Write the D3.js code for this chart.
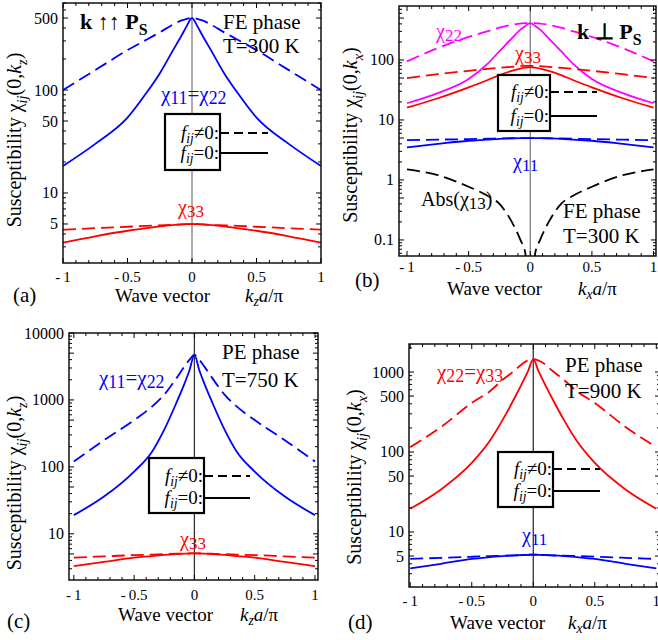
<!DOCTYPE html>
<html>
<head>
<meta charset="utf-8">
<script src="https://cdn.jsdelivr.net/npm/d3@7"></script>
<style>
  body { margin: 0; background: #fff; }
  text { font-family: "Liberation Serif", "Times New Roman", serif; }
</style>
</head>
<body>
<div id="fig"></div>
<script>
// wave vector grid (k a / pi) shared by every curve
var K = [-1, -0.75, -0.5, -0.35, -0.25, -0.15, -0.08, -0.04, 0, 0.04, 0.08, 0.15, 0.25, 0.35, 0.5, 0.75, 1];

// (a) FE phase, k || Ps
var aChi11Dash  = [100, 156, 244, 310, 363, 430, 475, 492, 500, 492, 475, 430, 363, 310, 244, 156, 100];
var aChi11Solid = [18.3, 30, 54, 95, 145, 240, 340, 420, 500, 420, 340, 240, 145, 95, 54, 30, 18.3];
var aChi33Dash  = [4.4, 4.55, 4.7, 4.8, 4.85, 4.9, 4.95, 4.98, 5.0, 4.98, 4.95, 4.9, 4.85, 4.8, 4.7, 4.55, 4.4];
var aChi33Solid = [3.3, 3.8, 4.3, 4.55, 4.75, 4.88, 4.95, 4.98, 5.0, 4.98, 4.95, 4.88, 4.75, 4.55, 4.3, 3.8, 3.3];

// (b) FE phase, k _|_ Ps
var bChi22Dash  = [95, 158, 242, 300, 345, 385, 405, 411, 413, 411, 405, 385, 345, 300, 242, 158, 95];
var bChi22Solid = [19, 28, 48, 85, 140, 230, 320, 370, 413, 370, 320, 230, 140, 85, 48, 28, 19];
var bChi33Dash  = [50, 58, 66, 71, 74, 77, 79, 79.7, 80, 79.7, 79, 77, 74, 71, 66, 58, 50];
var bChi33Solid = [16, 23, 35, 46, 56, 66, 72, 74.5, 76, 74.5, 72, 66, 56, 46, 35, 23, 16];
var bChi11Dash  = [4.6, 4.7, 4.8, 4.87, 4.92, 4.96, 4.98, 4.99, 5.0, 4.99, 4.98, 4.96, 4.92, 4.87, 4.8, 4.7, 4.6];
var bChi11Solid = [3.5, 4.0, 4.5, 4.7, 4.85, 4.93, 4.97, 4.99, 5.0, 4.99, 4.97, 4.93, 4.85, 4.7, 4.5, 4.0, 3.5];
var bChi13Dash  = [1.5, 1.2, 0.77, 0.55, 0.4, 0.2, 0.1, 0.06, 0.001, 0.06, 0.1, 0.2, 0.4, 0.55, 0.77, 1.2, 1.5];

// (c) PE phase 750 K, k || z
var cChi11Dash  = [120, 250, 500, 800, 1200, 2100, 3200, 4000, 4700, 4000, 3200, 2100, 1200, 800, 500, 250, 120];
var cChi11Solid = [19, 36, 85, 170, 360, 900, 1800, 2800, 4700, 2800, 1800, 900, 360, 170, 85, 36, 19];
var cChi33Dash  = [4.4, 4.6, 4.8, 4.9, 4.97, 5.03, 5.07, 5.09, 5.1, 5.09, 5.07, 5.03, 4.97, 4.9, 4.8, 4.6, 4.4];
var cChi33Solid = [3.3, 3.8, 4.4, 4.65, 4.85, 4.98, 5.05, 5.08, 5.1, 5.08, 5.05, 4.98, 4.85, 4.65, 4.4, 3.8, 3.3];

// (d) PE phase 900 K, k || x
var dChi22Dash  = [115, 205, 410, 580, 795, 1050, 1300, 1400, 1450, 1400, 1300, 1050, 795, 580, 410, 205, 115];
var dChi22Solid = [19.5, 34, 73, 140, 250, 480, 780, 1050, 1450, 1050, 780, 480, 250, 140, 73, 34, 19.5];
var dChi11Dash  = [4.6, 4.75, 4.9, 5.0, 5.05, 5.1, 5.15, 5.18, 5.2, 5.18, 5.15, 5.1, 5.05, 5.0, 4.9, 4.75, 4.6];
var dChi11Solid = [3.5, 4.0, 4.6, 4.85, 5.0, 5.1, 5.15, 5.18, 5.2, 5.18, 5.15, 5.1, 5.0, 4.85, 4.6, 4.0, 3.5];

// tick labels
var xTickLabels = [-1, -0.5, 0, 0.5, 1];
var aYTicks = [5, 10, 50, 100, 500];
var bYTicks = [0.1, 1, 10, 100];
var cYTicks = [10, 100, 1000, 10000];
var dYTicks = [5, 10, 50, 100, 500, 1000];

var BLUE = "#0000ff", RED = "#ff0000", MAG = "#ff00ff";

var svg = d3.select("#fig").append("svg")
    .attr("width", 658)
    .attr("height", 640);

// rich text: parts = [{t, it, sub, b}]
function rich(g, x, y, parts, size, color, anchor) {
    var t = g.append("text")
        .attr("x", x).attr("y", y)
        .attr("font-size", size)
        .attr("fill", color || "#000")
        .attr("text-anchor", anchor || "start");
    var shift = 0;
    parts.forEach(function(p) {
        var target = p.sub ? size * (p.drop || 0.28) : 0;
        var s = t.append("tspan").text(p.t)
            .attr("dy", target - shift)
            .attr("font-size", p.sub ? size * (p.subScale || 0.72) : size);
        if (p.it) s.attr("font-style", "italic");
        if (p.b) s.attr("font-weight", "bold");
        shift = target;
    });
    return t;
}

var clipId = 0;
function panel(o) {
    var g = svg.append("g");
    var x = d3.scaleLinear().domain(o.xd).range([o.l, o.r]);
    var y = d3.scaleLog().domain(o.yd).range([o.b, o.t]);

    clipId++;
    g.append("clipPath").attr("id", "clip" + clipId)
        .append("rect")
        .attr("x", o.l).attr("y", o.t)
        .attr("width", o.r - o.l).attr("height", o.b - o.t);

    var plot = g.append("g").attr("clip-path", "url(#clip" + clipId + ")");

    // k = 0 line
    plot.append("line")
        .attr("x1", x(0)).attr("x2", x(0))
        .attr("y1", o.t).attr("y2", o.b)
        .attr("stroke", o.midColor).attr("stroke-width", 1.3);

    var line = d3.line()
        .x(function(d) { return x(d[0]); })
        .y(function(d) { return y(d[1]); })
        .curve(d3.curveMonotoneX);

    o.series.forEach(function(s) {
        plot.append("path")
            .datum(K.map(function(k, i) { return [k, s.v[i]]; }))
            .attr("d", line)
            .attr("fill", "none")
            .attr("stroke", s.c)
            .attr("stroke-width", 1.8)
            .attr("stroke-dasharray", s.dash ? "13,6" : null);
    });

    // legend
    var lg = o.legend;
    g.append("line").attr("x1", lg.r).attr("x2", lg.end)
        .attr("y1", lg.y1).attr("y2", lg.y1)
        .attr("stroke", "#000").attr("stroke-width", 2.2).attr("stroke-dasharray", "9,5");
    g.append("line").attr("x1", lg.r).attr("x2", lg.end)
        .attr("y1", lg.y2).attr("y2", lg.y2)
        .attr("stroke", "#000").attr("stroke-width", 2.2);
    g.append("rect")
        .attr("x", lg.l).attr("y", lg.t)
        .attr("width", lg.r - lg.l).attr("height", lg.b - lg.t)
        .attr("fill", "#fff").attr("stroke", "#000").attr("stroke-width", 2.2);
    rich(g, lg.r - 1, lg.y1 + 6, [{t: "f", it: true}, {t: "ij", it: true, sub: true, drop: 0.22}, {t: "\u22600:"}], 19, "#000", "end");
    rich(g, lg.r - 1, lg.y2 + 6, [{t: "f", it: true}, {t: "ij", it: true, sub: true, drop: 0.22}, {t: "=0:"}], 19, "#000", "end");

    // frame
    g.append("rect")
        .attr("x", o.l).attr("y", o.t)
        .attr("width", o.r - o.l).attr("height", o.b - o.t)
        .attr("fill", "none").attr("stroke", "#000").attr("stroke-width", 1.4);

    // x ticks every 0.1, inside the frame
    var ticks = g.append("g").attr("stroke", "#000").attr("stroke-width", 1);
    d3.range(-12, 13).map(function(i) { return i / 10; })
        .filter(function(k) { return k >= o.xd[0] && k <= o.xd[1]; })
        .forEach(function(k) {
            var len = Math.abs(k * 2 - Math.round(k * 2)) < 1e-6 ? 5 : 3;
            ticks.append("line").attr("x1", x(k)).attr("x2", x(k))
                .attr("y1", o.b).attr("y2", o.b - len);
            ticks.append("line").attr("x1", x(k)).attr("x2", x(k))
                .attr("y1", o.t).attr("y2", o.t + len);
        });
    // y log ticks
    var d0 = Math.floor(Math.log10(o.yd[0])), d1 = Math.ceil(Math.log10(o.yd[1]));
    for (var d = d0; d <= d1; d++) {
        for (var m = 1; m <= 9; m++) {
            var v = m * Math.pow(10, d);
            if (v < o.yd[0] || v > o.yd[1]) continue;
            var len = (m === 1 || m === 5) ? 5 : 3;
            ticks.append("line").attr("x1", o.l).attr("x2", o.l + len)
                .attr("y1", y(v)).attr("y2", y(v));
            ticks.append("line").attr("x1", o.r).attr("x2", o.r - len)
                .attr("y1", y(v)).attr("y2", y(v));
        }
    }

    // tick labels
    o.yTicks.forEach(function(v) {
        g.append("text").attr("x", o.l - 5).attr("y", y(v) + 5.5)
            .attr("text-anchor", "end").attr("font-size", 16).text(v);
    });
    xTickLabels.forEach(function(k) {
        if (x(k) > 662) return;
        g.append("text").attr("x", x(k)).attr("y", o.xLabY)
            .attr("text-anchor", "middle").attr("font-size", 15)
            .text(k < 0 ? "-\u2009" + Math.abs(k) : k);
    });

    // axis titles
    rich(g, o.title[0], o.title[1], [{t: "Wave vector"}], 19);
    rich(g, o.title[2], o.title[1], [{t: "k", it: true}, {t: o.kSub, it: true, sub: true, drop: 0.2}, {t: "a", it: true}, {t: "/\u03c0"}], 19);
    rich(g, 0, 0, [{t: "Susceptibility  \u03c7"}, {t: "ij", it: true, sub: true}, {t: "(0,"}, {t: "k", it: true}, {t: o.kSub, it: true, sub: true}, {t: ")"}], 20, "#000", "middle")
        .attr("transform", "translate(" + o.yLab[0] + "," + o.yLab[1] + ") rotate(-90)");
    g.append("text").attr("x", o.tag[0]).attr("y", o.tag[1]).attr("font-size", 21).text(o.tag[2]);

    o.texts.forEach(function(t) {
        rich(g, t.x, t.y, t.parts, t.size, t.c);
    });
}

function chi(sub) {
    return [{t: "\u03c7"}, {t: sub, sub: true, subScale: 0.85, drop: 0.15}];
}

panel({
    l: 63, r: 321, t: 3, b: 263, xd: [-1, 1], yd: [2.09, 700],
    midColor: "#808080", yTicks: aYTicks, kSub: "z", xLabY: 282,
    series: [
        {v: aChi11Dash, c: BLUE, dash: true}, {v: aChi11Solid, c: BLUE},
        {v: aChi33Dash, c: RED, dash: true}, {v: aChi33Solid, c: RED}
    ],
    legend: {l: 165, r: 220, t: 114, b: 170, y1: 133, y2: 153, end: 268},
    title: [115, 302, 245], yLab: [21, 140], tag: [13, 302, "(a)"],
    texts: [
        {x: 80, y: 29, size: 22, parts: [{t: "k \u2191\u2191 P", b: true}, {t: "S", b: true, sub: true}]},
        {x: 223, y: 29, size: 21, parts: [{t: "FE phase"}]},
        {x: 223, y: 53, size: 21, parts: [{t: "T=300 K"}]},
        {x: 161, y: 101, size: 21, c: BLUE, parts: chi("11").concat([{t: "="}]).concat(chi("22"))},
        {x: 178, y: 214, size: 20, c: RED, parts: chi("33")}
    ]
});

panel({
    l: 399, r: 656, t: 6, b: 256, xd: [-1.065, 1.02], yd: [0.054, 794],
    midColor: "#808080", yTicks: bYTicks, kSub: "x", xLabY: 272,
    series: [
        {v: bChi22Dash, c: MAG, dash: true}, {v: bChi22Solid, c: MAG},
        {v: bChi33Dash, c: RED, dash: true}, {v: bChi33Solid, c: RED},
        {v: bChi11Dash, c: BLUE, dash: true}, {v: bChi11Solid, c: BLUE},
        {v: bChi13Dash, c: "#000", dash: true}
    ],
    legend: {l: 498, r: 550, t: 75, b: 131, y1: 92, y2: 116, end: 597},
    title: [447, 295, 578], yLab: [357, 135], tag: [355, 287, "(b)"],
    texts: [
        {x: 436, y: 38, size: 20, c: MAG, parts: chi("22")},
        {x: 577, y: 39, size: 22, parts: [{t: "k \u22a5 P", b: true}, {t: "S", b: true, sub: true}]},
        {x: 515, y: 60, size: 20, c: RED, parts: chi("33")},
        {x: 513, y: 168, size: 20, c: BLUE, parts: chi("11")},
        {x: 421, y: 206, size: 20, parts: [{t: "Abs("}].concat(chi("13")).concat([{t: ")"}])},
        {x: 563, y: 218, size: 21, parts: [{t: "FE phase"}]},
        {x: 563, y: 243, size: 21, parts: [{t: "T=300 K"}]}
    ]
});

panel({
    l: 69, r: 318, t: 333, b: 580, xd: [-1.04, 1.025], yd: [2.04, 10000],
    midColor: "#333", yTicks: cYTicks, kSub: "z", xLabY: 600,
    series: [
        {v: cChi11Dash, c: BLUE, dash: true}, {v: cChi11Solid, c: BLUE},
        {v: cChi33Dash, c: RED, dash: true}, {v: cChi33Solid, c: RED}
    ],
    legend: {l: 149, r: 204, t: 458, b: 513, y1: 476, y2: 498, end: 250},
    title: [118, 621, 240], yLab: [21, 483], tag: [7, 628, "(c)"],
    texts: [
        {x: 222, y: 359, size: 21, parts: [{t: "PE phase"}]},
        {x: 222, y: 387, size: 21, parts: [{t: "T=750 K"}]},
        {x: 99, y: 385, size: 21, c: BLUE, parts: chi("11").concat([{t: "="}]).concat(chi("22"))},
        {x: 180, y: 546, size: 20, c: RED, parts: chi("33")}
    ]
});

panel({
    l: 409, r: 660, t: 344, b: 587, xd: [-1.01, 1.03], yd: [2.05, 2240],
    midColor: "#333", yTicks: dYTicks, kSub: "x", xLabY: 606,
    series: [
        {v: dChi22Dash, c: RED, dash: true}, {v: dChi22Solid, c: RED},
        {v: dChi11Dash, c: BLUE, dash: true}, {v: dChi11Solid, c: BLUE}
    ],
    legend: {l: 498, r: 553, t: 452, b: 507, y1: 469, y2: 491, end: 600},
    title: [450, 629, 568], yLab: [361, 477], tag: [348, 629, "(d)"],
    texts: [
        {x: 565, y: 372, size: 21, parts: [{t: "PE phase"}]},
        {x: 565, y: 398, size: 21, parts: [{t: "T=900 K"}]},
        {x: 437, y: 379, size: 21, c: RED, parts: chi("22").concat([{t: "="}]).concat(chi("33"))},
        {x: 522, y: 542, size: 20, c: BLUE, parts: chi("11")}
    ]
});
</script>
</body>
</html>
